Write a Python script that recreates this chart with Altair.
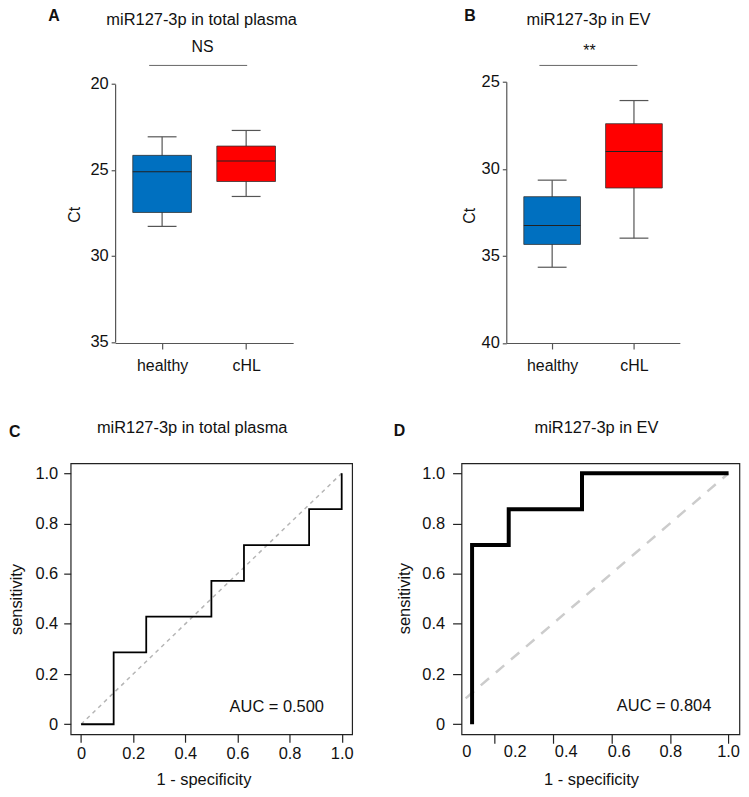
import altair as alt
import pandas as pd

FONT = "Liberation Sans"

# ---------------- data ----------------
groups = ["healthy", "cHL"]
group_pos = [1, 2]
box_colors = ["#0070C0", "#FF0000"]

panel_letters = ["A", "B", "C", "D"]
panel_titles = ["miR127-3p in total plasma", "miR127-3p in EV",
                "miR127-3p in total plasma", "miR127-3p in EV"]
sig_labels = ["NS", "**"]
auc_labels = ["AUC = 0.500", "AUC = 0.804"]

# Panel A (Ct, total plasma) box summaries: whisker ends, quartiles, median
a_whisk_lo = [23.07, 22.70]
a_q1 = [24.15, 23.61]
a_med = [25.10, 24.48]
a_q3 = [27.47, 25.67]
a_whisk_hi = [28.28, 26.54]
a_yticks = [20, 25, 30, 35]
a_bracket = [0.846, 2.012]

# Panel B (Ct, EV)
b_whisk_lo = [30.65, 26.08]
b_q1 = [31.60, 27.41]
b_med = [33.26, 29.01]
b_q3 = [34.34, 31.10]
b_whisk_hi = [35.65, 33.98]
b_yticks = [25, 30, 35, 40]
b_bracket = [0.844, 2.042]

# Panel C ROC (total plasma)
c_fpr = [0, 0.125, 0.125, 0.25, 0.25, 0.5, 0.5, 0.625, 0.625, 0.875, 0.875, 1.0, 1.0]
c_tpr = [0, 0, 0.286, 0.286, 0.429, 0.429, 0.571, 0.571, 0.714, 0.714, 0.857, 0.857, 1.0]
# Panel D ROC (EV)
d_fpr = [0.125, 0.125, 0.25, 0.25, 0.5, 0.5, 1.0]
d_tpr = [0, 0.714, 0.714, 0.857, 0.857, 1.0, 1.0]
diag = [0, 1]
roc_ticks = [0, 0.2, 0.4, 0.6, 0.8, 1.0]
d_ticks = [0.2, 0.4, 0.6, 0.8, 1.0]
d_xlabel_pos = [0.107, 0.272, 0.446, 0.627, 0.803, 1.0]
d_xlabel_text = ["0", "0.2", "0.4", "0.6", "0.8", "1.0"]

one = pd.DataFrame({"k": [0]})
TXT = "#111"


def text_at(s, x, y, size=16.5, weight="normal"):
    return alt.Chart(one).mark_text(text=s, fontSize=size, fontWeight=weight, align="center",
                                    baseline="alphabetic", color=TXT, font=FONT).encode(
        x=alt.value(x), y=alt.value(y))


def box_panel(idx, wlo, q1, med, q3, whi, yticks, bracket, width, height, xrange, yrange,
              y_offset, ct_x, ct_y, box_w, cap_w, letter_xy, title_xy, sig_xy, bracket_y):
    df = pd.DataFrame({"group": groups, "pos": group_pos, "wlo": wlo, "q1": q1,
                       "med": med, "q3": q3, "whi": whi})
    xscale = alt.Scale(domain=[0.5, 2.5], range=xrange, nice=False, zero=False)
    xaxis = alt.Axis(values=group_pos,
                     labelExpr=f"datum.value == 1 ? '{groups[0]}' : '{groups[1]}'",
                     title=None, grid=False, tickSize=6, labelPadding=9, labelFontSize=16,
                     labelColor=TXT, labelFont=FONT, domainColor="#555", tickColor="#555",
                     domainWidth=1.2, tickWidth=1.2)
    if yrange is not None:
        yscale = alt.Scale(domain=[yticks[0], yticks[-1]], range=yrange, nice=False, zero=False)
    else:
        yscale = alt.Scale(domain=[yticks[0], yticks[-1]], reverse=True, nice=False, zero=False)
    yaxis = alt.Axis(values=yticks, title="Ct", offset=y_offset, grid=False, tickSize=4,
                     labelPadding=3, labelFontSize=16.5, labelColor=TXT, labelFont=FONT,
                     domainColor="#555", tickColor="#555", domainWidth=1.2, tickWidth=1.2,
                     titleFontSize=16, titleFontWeight="normal", titleColor=TXT, titleFont=FONT,
                     titleX=ct_x, titleY=ct_y, titleBaseline="alphabetic", titleAngle=270,
                     titleAlign="center")
    X = alt.X("pos:Q", scale=xscale, axis=xaxis)

    def Y(f):
        return alt.Y(f + ":Q", scale=yscale, axis=yaxis)

    color = alt.Color("group:N", scale=alt.Scale(domain=groups, range=box_colors), legend=None)
    base = alt.Chart(df)
    whisk = base.mark_rule(color="#555", strokeWidth=1.2).encode(x=X, y=Y("wlo"), y2="whi")
    cap_lo = base.mark_tick(orient="horizontal", size=cap_w, thickness=1.2, color="#555",
                            opacity=1).encode(x=X, y=Y("wlo"))
    cap_hi = base.mark_tick(orient="horizontal", size=cap_w, thickness=1.2, color="#555",
                            opacity=1).encode(x=X, y=Y("whi"))
    box = base.mark_bar(size=box_w, stroke="#333", strokeWidth=0.8, opacity=1).encode(
        x=X, y=Y("q1"), y2="q3", color=color)
    median = base.mark_tick(orient="horizontal", size=box_w, thickness=1, color="#222",
                            opacity=1).encode(x=X, y=Y("med"))
    br = alt.Chart(one).mark_rule(color="#666", strokeWidth=1).encode(
        x=alt.datum(bracket[0]), x2=alt.datum(bracket[1]), y=alt.value(bracket_y))
    letter = text_at(panel_letters[idx], letter_xy[0], letter_xy[1], size=16, weight="bold")
    title = text_at(panel_titles[idx], title_xy[0], title_xy[1])
    sig = text_at(sig_labels[idx], sig_xy[0], sig_xy[1], size=16)
    return alt.layer(whisk, cap_lo, cap_hi, box, median, br, letter, title, sig).properties(
        width=width, height=height)


def roc_panel(idx, fpr, tpr, xdomain, xticks, show_labels, lw, diag_style, width, height,
              xt_size, xl_pad, yt_size, yl_pad, xtitle_xy, ytitle_xy, auc_xy,
              letter_xy, title_xy):
    df = pd.DataFrame({"fpr": fpr, "tpr": tpr, "order": list(range(len(fpr)))})
    ddf = pd.DataFrame({"fpr": diag, "tpr": diag})
    lab = "datum.value == 0 ? '0' : format(datum.value, '.1f')"
    xaxis_kw = dict(values=xticks, domain=False, grid=False, tickSize=xt_size, tickColor="#222",
                    tickWidth=1.2, labelPadding=xl_pad, labelFontSize=16.5, labelColor=TXT,
                    labelFont=FONT, title="1 - specificity", titleX=xtitle_xy[0],
                    titleY=xtitle_xy[1], titleBaseline="alphabetic", titleAlign="center",
                    titleFontSize=16.5, titleFontWeight="normal", titleColor=TXT, titleFont=FONT)
    if show_labels:
        xaxis_kw["labelExpr"] = lab
    else:
        xaxis_kw["labels"] = False
    X = alt.X("fpr:Q", scale=alt.Scale(domain=xdomain, nice=False, zero=False),
              axis=alt.Axis(**xaxis_kw))
    Y = alt.Y("tpr:Q", scale=alt.Scale(domain=[-0.04, 1.04], nice=False, zero=False),
              axis=alt.Axis(values=roc_ticks, labelExpr=lab, domain=False, grid=False,
                            tickSize=yt_size, tickColor="#222", tickWidth=1.2,
                            labelPadding=yl_pad, labelFontSize=16.5, labelColor=TXT,
                            labelFont=FONT, title="sensitivity", titleX=ytitle_xy[0],
                            titleY=ytitle_xy[1], titleBaseline="alphabetic",
                            titleAngle=270, titleAlign="center", titleFontSize=16.5,
                            titleFontWeight="normal", titleColor=TXT, titleFont=FONT))
    dcol, dw, ddash = diag_style
    dline = alt.Chart(ddf).mark_line(color=dcol, strokeWidth=dw, strokeDash=ddash,
                                     clip=True).encode(x=X, y=Y)
    roc = alt.Chart(df).mark_line(color="#000", strokeWidth=lw, clip=True,
                                  strokeJoin="miter").encode(x=X, y=Y, order="order:Q")
    auc = alt.Chart(one).mark_text(text=auc_labels[idx - 2], fontSize=16.5, align="center",
                                   baseline="alphabetic", color=TXT, font=FONT).encode(
        x=alt.datum(auc_xy[0]), y=alt.datum(auc_xy[1]))
    letter = text_at(panel_letters[idx], letter_xy[0], letter_xy[1], size=16, weight="bold")
    title = text_at(panel_titles[idx], title_xy[0], title_xy[1])
    layers = [dline, roc, auc, letter, title]
    if not show_labels:
        ldf = pd.DataFrame({"fpr": d_xlabel_pos, "label": d_xlabel_text})
        labels = alt.Chart(ldf).mark_text(fontSize=16.5, align="center", baseline="top",
                                          color=TXT, font=FONT).encode(
            x=X, y=alt.value(height + 10), text="label:N")
        layers.append(labels)
    return alt.layer(*layers).properties(
        width=width, height=height,
        view=alt.ViewBackground(stroke="#222", strokeWidth=1.2))


A = box_panel(0, a_whisk_lo, a_q1, a_med, a_q3, a_whisk_hi, a_yticks, a_bracket,
              width=223.7, height=262.7, xrange=[44.7, 223.7], yrange=[2.3, 261.6],
              y_offset=-44.7, ct_x=-36, ct_y=133.3, box_w=59, cap_w=29,
              letter_xy=(-16.8, -61.3), title_xy=(131.7, -57.2), sig_xy=(132.7, -29.4),
              bracket_y=-16.4)
B = box_panel(1, b_whisk_lo, b_q1, b_med, b_q3, b_whisk_hi, b_yticks, b_bracket,
              width=219.5, height=262.7, xrange=[45, 219.5], yrange=None,
              y_offset=-45, ct_x=-32.3, ct_y=134.3, box_w=57, cap_w=29,
              letter_xy=(8.4, -61.4), title_xy=(127.7, -57.2), sig_xy=(128.7, -25.7),
              bracket_y=-16.4)
C = roc_panel(2, c_fpr, c_tpr, [-0.04, 1.04], roc_ticks, True, 1.8, ("#b5b5b5", 1.5, [4, 4]),
              width=283, height=272.5, xt_size=8, xl_pad=3, yt_size=7, yl_pad=6,
              xtitle_xy=(133.5, 50), ytitle_xy=(-49.3, 136.5), auc_xy=(0.751, 0.047),
              letter_xy=(-56.3, -26), title_xy=(122.2, -30.3))
D = roc_panel(3, d_fpr, d_tpr, [0.089, 1.037], d_ticks, False, 4, ("#cccccc", 2.5, [11, 9]),
              width=279.4, height=272.5, xt_size=9, xl_pad=3, yt_size=9, yl_pad=8,
              xtitle_xy=(130.2, 51), ytitle_xy=(-52.6, 135.7), auc_xy=(0.78, 0.051),
              letter_xy=(-62.3, -27.5), title_xy=(135.7, -30))

chart = alt.concat(
    A, B, C, D, columns=2,
    spacing=alt.RowColnumber(row=110.6, column=110),
    bounds="flush",
    align="all",
).properties(padding={"top": -3, "left": 0, "right": 0, "bottom": 0}).configure(
    font=FONT).configure_view(stroke=None)

chart.save("out.html", embed_options={"renderer": "svg", "actions": False})
